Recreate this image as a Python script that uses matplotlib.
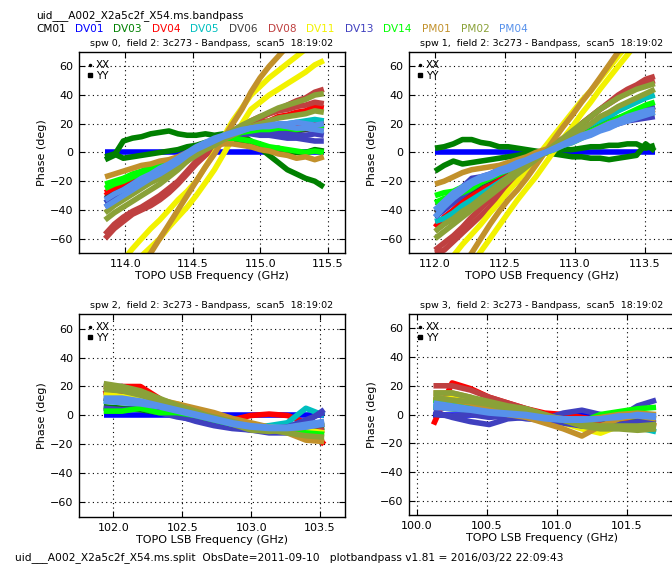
import matplotlib
matplotlib.use("Agg")
from matplotlib import pyplot as plot
from matplotlib.lines import Line2D
from matplotlib.ticker import MultipleLocator

TOP_TITLE = "uid___A002_X2a5c2f_X54.ms.bandpass"
FOOTER = "uid___A002_X2a5c2f_X54.ms.split  ObsDate=2011-09-10   plotbandpass v1.81 = 2016/03/22 22:09:43"

antennas = ["CM01", "DV01", "DV03", "DV04", "DV05", "DV06", "DV08",
            "DV11", "DV13", "DV14", "PM01", "PM02", "PM04"]
antennaColors = [(0, 0, 0), (0, 0, 1), (0, 0.5, 0), (1, 0, 0), (0, 0.75, 0.75),
                 (0.25, 0.25, 0.25), (0.75, 0.25, 0.25), (0.95, 0.95, 0),
                 (0.25, 0.25, 0.75), (0, 1, 0), (0.76, 0.57, 0.17),
                 (0.54, 0.63, 0.22), (0.34, 0.57, 0.92)]

#DV01 is the reference antenna: phase zero everywhere
REF_ZERO_25 = [0, 0, 0, 0, 0, 0, 0, 0, 0, 0, 0, 0, 0, 0, 0, 0, 0, 0, 0, 0, 0, 0, 0, 0, 0]
REF_ZERO_13 = [0, 0, 0, 0, 0, 0, 0, 0, 0, 0, 0, 0, 0]

#spw 0 (USB)
spw0Freq = [113.85, 113.918, 113.985, 114.053, 114.12, 114.188, 114.255, 114.323,
            114.39, 114.458, 114.525, 114.593, 114.66, 114.728, 114.795, 114.863,
            114.93, 114.998, 115.065, 115.133, 115.2, 115.268, 115.335, 115.403, 115.47]
spw0Phase = {
    "DV01": [REF_ZERO_25],
    "DV03": [[-5, -2, 8, 10, 11, 13, 14, 15, 13, 12, 12, 13, 12, 13, 14, 12, 8, 3, -2, -7, -12, -15, -18, -20, -24],
             [-3, -1, -4, -3, -2, -1, 0, 1, 2, 4, 5, 7, 8, 9, 8, 6, 4, 3, 2, 3, 1, 0, 0, 2, 1]],
    "DV04": [[-30, -26, -24, -20, -18, -15, -13, -11, -8, -4, -2, 2, 5, 9, 12, 16, 18, 21, 22, 25, 26, 28, 29, 32, 31],
             [-28, -25, -22, -19, -17, -14, -12, -9, -6, -3, 0, 3, 6, 8, 10, 12, 14, 15, 16, 17, 18, 19, 20, 21, 22]],
    "DV05": [[-35, -31, -28, -23, -20, -17, -14, -11, -8, -4, 0, 4, 7, 10, 12, 14, 16, 17, 18, 19, 20, 21, 22, 23, 22]],
    "DV06": [[-32, -29, -26, -22, -19, -16, -13, -10, -7, -3, 0, 3, 6, 9, 11, 13, 14, 15, 15, 16, 16, 15, 16, 17, 16]],
    "DV08": [[-60, -53, -48, -43, -40, -37, -33, -28, -22, -15, -8, -2, 3, 9, 14, 18, 20, 24, 27, 30, 33, 36, 38, 42, 44],
             [-57, -50, -45, -41, -38, -34, -30, -25, -20, -13, -6, 0, 5, 10, 15, 19, 22, 25, 27, 29, 30, 32, 33, 35, 34]],
    "DV11": [[-90, -82, -75, -67, -60, -53, -47, -40, -33, -27, -20, -10, 0, 11, 22, 31, 40, 46, 52, 57, 62, 67, 72, 76, 80],
             [-95, -90, -85, -78, -72, -66, -60, -52, -45, -38, -30, -21, -12, -1, 10, 20, 30, 35, 40, 44, 48, 52, 56, 61, 64]],
    "DV13": [[-38, -34, -30, -26, -22, -18, -14, -10, -7, -3, 0, 4, 7, 10, 12, 13, 13, 12, 12, 11, 10, 10, 9, 8, 8],
             [-35, -31, -28, -24, -20, -16, -13, -9, -6, -2, 1, 5, 8, 10, 12, 13, 14, 15, 14, 13, 13, 12, 12, 13, 12]],
    "DV14": [[-25, -22, -20, -17, -15, -12, -10, -7, -5, -1, 2, 5, 8, 10, 12, 14, 15, 16, 16, 17, 17, 16, 17, 18, 17],
             [-22, -20, -18, -15, -13, -10, -8, -6, -4, -1, 2, 5, 8, 9, 10, 9, 8, 6, 4, 3, 2, 1, 0, 1, 0]],
    "PM01": [[-17, -15, -13, -11, -9, -8, -6, -5, -3, 0, 2, 4, 5, 6, 6, 5, 4, 2, 1, -1, -2, -4, -3, -5, -3],
             [-110, -102, -95, -87, -78, -70, -60, -50, -40, -30, -20, -10, -1, 10, 20, 30, 42, 52, 60, 67, 74, 80, 86, 91, 96]],
    "PM02": [[-47, -42, -38, -34, -30, -26, -22, -17, -12, -6, 0, 4, 8, 12, 15, 19, 22, 25, 28, 31, 33, 35, 37, 40, 41],
             [-42, -37, -33, -29, -25, -21, -18, -14, -10, -6, -2, 2, 5, 9, 12, 15, 18, 20, 22, 24, 25, 26, 27, 29, 28]],
    "PM04": [[-38, -34, -30, -26, -22, -18, -15, -11, -7, -2, 2, 5, 8, 11, 13, 15, 17, 18, 18, 19, 18, 17, 17, 16, 15],
             [-33, -29, -26, -22, -18, -15, -11, -8, -4, 0, 4, 7, 10, 12, 14, 16, 17, 18, 19, 20, 20, 21, 20, 19, 20]],
}

#spw 1 (USB)
spw1Freq = [112.0, 112.065, 112.131, 112.196, 112.262, 112.327, 112.393, 112.458,
            112.523, 112.589, 112.654, 112.72, 112.785, 112.85, 112.916, 112.981,
            113.047, 113.112, 113.178, 113.243, 113.308, 113.374, 113.439, 113.505, 113.57]
spw1Phase = {
    "DV01": [REF_ZERO_25],
    "DV03": [[3, 4, 6, 9, 9, 7, 6, 4, 4, 3, 2, 1, 0, -1, -2, -3, -3, -4, -4, -5, -4, -3, -2, 6, 1],
             [-13, -9, -6, -8, -7, -6, -5, -4, -3, -2, -1, 0, 0, 1, 2, 2, 3, 4, 4, 5, 5, 6, 6, 3, 5]],
    "DV04": [[-52, -45, -40, -34, -30, -26, -23, -19, -15, -11, -8, -4, 0, 3, 6, 9, 12, 15, 18, 21, 23, 25, 27, 29, 30]],
    "DV05": [[-48, -46, -42, -37, -33, -29, -25, -21, -17, -12, -8, -4, 0, 4, 8, 11, 15, 18, 22, 25, 29, 32, 35, 38, 40]],
    "DV06": [[-42, -38, -34, -30, -26, -22, -19, -15, -12, -9, -6, -3, 0, 3, 6, 9, 12, 15, 18, 21, 24, 26, 28, 30, 32]],
    "DV08": [[-70, -68, -62, -56, -50, -44, -38, -31, -25, -18, -12, -6, 0, 5, 10, 15, 20, 25, 30, 35, 40, 44, 47, 51, 53],
             [-68, -63, -58, -52, -45, -39, -33, -27, -22, -16, -10, -5, 0, 5, 10, 15, 20, 25, 30, 34, 38, 42, 45, 48, 50]],
    "DV11": [[-88, -80, -72, -64, -57, -50, -42, -35, -27, -20, -12, -4, 4, 12, 20, 28, 36, 43, 51, 59, 67, 75, 83, 90, 98],
             [-110, -102, -95, -87, -78, -69, -60, -51, -42, -33, -25, -17, -8, 1, 10, 18, 27, 35, 44, 52, 60, 68, 76, 84, 92]],
    "DV13": [[-45, -40, -35, -30, -25, -21, -18, -15, -12, -9, -6, -3, 0, 3, 5, 8, 11, 14, 16, 18, 20, 22, 23, 24, 25],
             [-40, -35, -30, -24, -18, -17, -15, -12, -10, -7, -5, -2, 0, 3, 6, 9, 12, 15, 18, 21, 24, 26, 28, 30, 32]],
    "DV14": [[-30, -28, -27, -24, -22, -19, -17, -14, -12, -9, -6, -3, 0, 3, 6, 9, 12, 15, 18, 21, 24, 27, 30, 33, 35],
             [-35, -32, -30, -28, -25, -21, -18, -15, -12, -9, -6, -3, 0, 2, 5, 7, 10, 13, 16, 18, 21, 23, 25, 27, 28]],
    "PM01": [[-22, -20, -17, -14, -12, -11, -10, -9, -7, -5, -3, 0, 2, 4, 6, 9, 12, 14, 17, 20, 22, 24, 26, 28, 30],
             [-100, -94, -88, -79, -70, -60, -50, -41, -33, -26, -18, -9, 0, 9, 18, 26, 35, 43, 52, 61, 70, 77, 85, 92, 100]],
    "PM02": [[-60, -55, -50, -45, -40, -35, -30, -25, -20, -15, -10, -5, 0, 5, 10, 15, 20, 25, 30, 34, 38, 41, 44, 46, 48],
             [-55, -50, -46, -41, -37, -32, -27, -22, -17, -12, -8, -4, 0, 4, 8, 12, 16, 20, 25, 28, 32, 35, 38, 41, 44]],
    "PM04": [[-45, -38, -32, -27, -22, -19, -17, -14, -12, -9, -6, -3, 0, 3, 6, 9, 12, 14, 17, 20, 22, 25, 27, 29, 30],
             [-40, -34, -28, -24, -20, -17, -15, -12, -10, -7, -5, -2, 0, 2, 5, 7, 10, 12, 15, 17, 20, 22, 24, 26, 28]],
}

#spw 2 (LSB)
spw2Freq = [101.93, 102.063, 102.197, 102.33, 102.463, 102.597, 102.73,
            102.863, 102.997, 103.13, 103.263, 103.397, 103.53]
spw2Phase = {
    "DV01": [REF_ZERO_13],
    "DV03": [[6, 5, 4, 2, 0, -3, -5, -7, -8, -8, -9, -10, -8]],
    "DV04": [[15, 20, 20, 12, 2, -3, -4, -3, 0, 1, 0, -5, -20]],
    "DV05": [[10, 9, 8, 6, 3, 0, -4, -7, -8, -7, -5, 5, 0]],
    "DV06": [[12, 10, 8, 5, 2, -1, -4, -7, -9, -9, -8, -8, -6]],
    "DV08": [[16, 14, 12, 8, 4, 0, -4, -7, -9, -10, -10, -12, -10]],
    "DV11": [[15, 13, 12, 10, 8, 4, 0, -3, -6, -8, -9, -10, -12]],
    "DV13": [[20, 20, 16, 8, 0, -4, -7, -9, -10, -10, -8, -3, 2],
             [5, 4, 5, 2, -1, -3, -6, -8, -10, -12, -12, -5, 4]],
    "DV14": [[3, 3, 5, 2, 2, 0, -3, -6, -8, -9, -10, -12, -13]],
    "PM01": [[20, 18, 15, 11, 8, 5, 2, -2, -5, -8, -12, -17, -18]],
    "PM02": [[22, 20, 17, 12, 7, 3, -2, -6, -10, -11, -10, -8, -5],
             [18, 17, 14, 10, 6, 2, -1, -4, -8, -10, -12, -14, -15]],
    "PM04": [[12, 12, 10, 7, 4, 1, -2, -5, -7, -8, -8, -6, -4],
             [10, 9, 8, 6, 3, 0, -3, -6, -8, -9, -9, -8, -6]],
}

#spw 3 (LSB)
spw3Freq = [100.12, 100.253, 100.385, 100.518, 100.65, 100.783, 100.915,
            101.048, 101.18, 101.313, 101.445, 101.578, 101.71]
spw3Phase = {
    "DV01": [REF_ZERO_13],
    "DV03": [[5, 4, 3, 2, 0, -2, -3, -4, -3, -3, -4, -3, -3]],
    "DV04": [[-7, 22, 18, 12, 8, 4, 1, 0, -2, -4, -5, -6, -8]],
    "DV05": [[6, 6, 5, 4, 2, 0, -3, -5, -6, -6, -7, -9, -12]],
    "DV06": [[10, 10, 8, 6, 4, 1, -2, -4, -5, -6, -6, -7, -8]],
    "DV08": [[20, 20, 17, 12, 8, 4, 0, -4, -6, -7, -7, -7, -8]],
    "DV11": [[10, 12, 10, 7, 4, 2, -3, -6, -10, -13, -8, -6, -8]],
    "DV13": [[2, -2, -5, -7, -3, -2, -3, 1, 3, 0, -2, 6, 10],
             [0, -1, 0, -2, -1, -3, -4, -6, -8, -9, -7, -5, -6]],
    "DV14": [[10, 8, 6, 5, 3, 1, -2, -4, -5, 0, 2, 4, 5]],
    "PM01": [[15, 15, 12, 4, 0, -2, -6, -10, -15, -8, -3, -1, -3],
             [12, 10, 8, 3, 2, 1, -1, -3, -4, -2, 0, 1, 0]],
    "PM02": [[15, 15, 12, 9, 6, 4, 0, -4, -6, -8, -8, -8, -7],
             [12, 10, 9, 7, 4, 2, -1, -4, -8, -10, -10, -11, -10]],
    "PM04": [[8, 6, 4, 2, 1, 0, -2, -3, -3, -3, -2, 0, -1],
             [5, 4, 3, 1, 0, -1, -3, -4, -4, -3, -1, -1, -2]],
}

spwFreqs = [spw0Freq, spw1Freq, spw2Freq, spw3Freq]
spwPhases = [spw0Phase, spw1Phase, spw2Phase, spw3Phase]
spwXlims = [(113.657, 115.627), (111.814, 113.714), (101.751, 103.681), (99.945, 101.845)]
spwSidebands = ["USB", "USB", "LSB", "LSB"]

#axes rectangles in figure fraction (left, bottom, width, height)
axesRects = [(0.1176, 0.5538, 0.3958, 0.3545), (0.6086, 0.5538, 0.3958, 0.3545),
             (0.1176, 0.0882, 0.3958, 0.3580), (0.6086, 0.0917, 0.3958, 0.3545)]


def drawPanel(figure, spw:int) -> None:
    axis = figure.add_axes(axesRects[spw])
    freq = spwFreqs[spw]
    for name, color in zip(antennas, antennaColors):
        for phase in spwPhases[spw].get(name, []):
            axis.plot(freq, phase, "-", color=color, lw=4.0, solid_capstyle="butt")

    axis.set_xlim(spwXlims[spw])
    axis.set_ylim(-70, 70)
    axis.xaxis.set_major_locator(MultipleLocator(0.5))
    axis.yaxis.set_major_locator(MultipleLocator(20))
    axis.xaxis.set_major_formatter(plot.FormatStrFormatter("%.1f"))
    axis.grid(True, color="k", linestyle=(0, (1, 3)), linewidth=0.8)
    axis.tick_params(direction="in", top=True, right=True, labelsize=8, length=4, pad=4)
    for spine in axis.spines.values():
        spine.set_linewidth(1.0)

    axis.set_title(f"spw {spw},  field 2: 3c273 - Bandpass,  scan5  18:19:02", fontsize=6.8, pad=4)
    axis.set_xlabel(f"TOPO {spwSidebands[spw]} Frequency (GHz)", fontsize=8, labelpad=2)
    axis.set_ylabel("Phase (deg)", fontsize=8, labelpad=2)

    handles = [Line2D([], [], marker=".", ls="none", color="k", markersize=3),
               Line2D([], [], marker="s", ls="none", color="k", markersize=2.5)]
    axis.legend(handles, ["XX", "YY"], loc="upper left", frameon=False, fontsize=7.5,
                handlelength=0.6, handletextpad=0.2, labelspacing=0.05,
                borderaxespad=0.6, borderpad=0.2)


def main():
    figure = plot.figure(figsize=(6.72, 5.67), dpi=100)

    figure.text(36 / 672, 1 - 16 / 567, TOP_TITLE, fontsize=7.6, va="center", ha="left")
    for i, (name, color) in enumerate(zip(antennas, antennaColors)):
        figure.text((36 + i * 38.6) / 672, 1 - 29 / 567, name, color=color,
                    fontsize=7.6, va="center", ha="left")

    for spw in range(4):
        drawPanel(figure, spw)

    figure.text(15 / 672, 1 - 558 / 567, FOOTER, fontsize=7.7, va="center", ha="left")

    figure.savefig("out.png", dpi=100)


if (__name__ == "__main__"):
    main()
